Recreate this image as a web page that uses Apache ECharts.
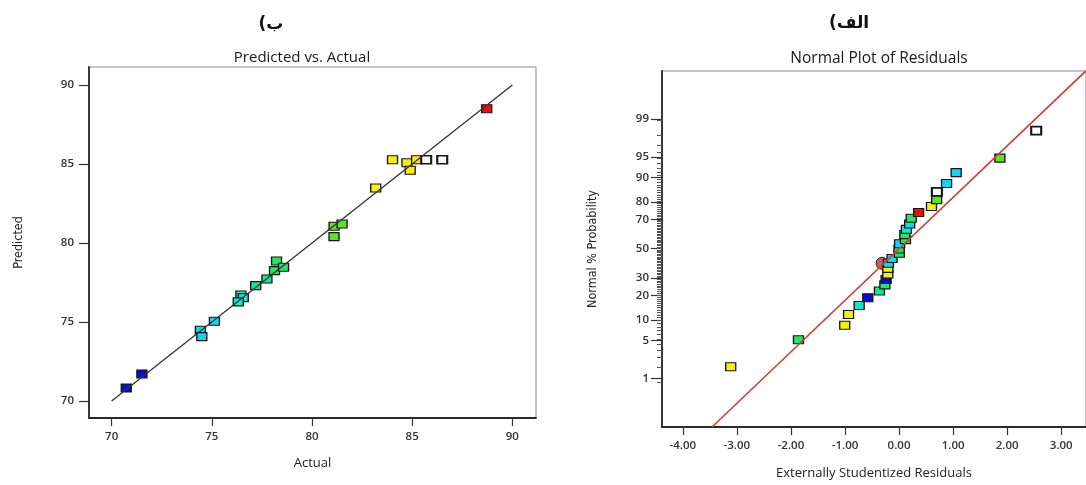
<!DOCTYPE html>
<html><head><meta charset="utf-8">
<script src="https://cdn.jsdelivr.net/npm/echarts@6/dist/echarts.min.js"></script>
<style>html,body{margin:0;padding:0;background:#fff}#c{width:1086px;height:485px}</style>
</head><body><div id="c"></div>
<script>
// ---- Left chart: Predicted vs. Actual ----
const actual    = [88.72, 84.02, 84.74, 85.22, 84.90, 85.70, 86.50, 83.18, 81.10, 81.50, 81.10, 78.23, 78.13, 78.58, 77.75, 77.19, 76.45, 76.57, 76.32, 75.13, 74.43, 74.50, 71.51, 70.73];
const predicted = [88.50, 85.27, 85.08, 85.27, 84.60, 85.27, 85.27, 83.48, 81.06, 81.20, 80.40, 78.86, 78.25, 78.46, 77.72, 77.30, 76.71, 76.54, 76.27, 75.04, 74.47, 74.07, 71.71, 70.82];
const leftColorKeys = ['red','yellow','yellow','yellow','yellow','white','white','yellow','lime','lime','lime','green','green','green','tealgreen','tealgreen','teal','teal','teal','cyan','cyan','cyan','blue','blue'];
const diagonalEnds = [70, 90];
const leftTicks = [70, 75, 80, 85, 90];

// ---- Right chart: Normal Plot of Residuals ----
const residuals     = [-3.114, -1.861, -1.005, -0.934, -0.738, -0.578, -0.364, -0.262, -0.239, -0.208, -0.208, -0.196, -0.130, 0.005, 0.000, 0.010, 0.118, 0.107, 0.136, 0.196, 0.225, 0.362, 0.600, 0.695, 0.700, 0.879, 1.057, 1.865, 2.537];
const probabilities = [1.7, 5.1, 8.5, 11.9, 15.4, 18.9, 22.4, 25.8, 29.0, 32.5, 36.2, 39.7, 43.0, 46.7, 49.8, 53.5, 56.5, 60.0, 63.6, 67.1, 70.8, 74.2, 77.6, 81.1, 84.6, 87.9, 91.4, 94.8, 98.3];
const rightColorKeys = ['yellow','green','yellow','yellow','teal','blue','tealgreen','green','blue','yellow','yellow','cyan','cyan','green','green','cyan','green','green','teal','cyan','green','red','yellow','lime','white','cyan','cyan','lime','white'];
const highlightResidual = [-0.315];
const highlightProbability = [39.7];
const normalLineResidual = [-3.46, 3.45];
const normalLineProbability = [0.0687, 99.928];
const probTicks = [1, 5, 10, 20, 30, 50, 70, 80, 90, 95, 99];
const residualTicks = [-4, -3, -2, -1, 0, 1, 2, 3];

const palette = {
  blue:'#0c0cd0', cyan:'#14d6f4', teal:'#14e8cc', tealgreen:'#14e496', green:'#28e464',
  lime:'#5ae622', yellow:'#f6f00c', red:'#f00c0c', white:'#ffffff'
};

// inverse normal CDF (Acklam) – probability scale of the normal plot
function probit(p) {
  const a=[-3.969683028665376e+01,2.209460984245205e+02,-2.759285104469687e+02,1.383577518672690e+02,-3.066479806614716e+01,2.506628277459239e+00];
  const b=[-5.447609879822406e+01,1.615858368580409e+02,-1.556989798598866e+02,6.680131188771972e+01,-1.328068155288572e+01];
  const c=[-7.784894002430293e-03,-3.223964580411365e-01,-2.400758277161838e+00,-2.549732539343734e+00,4.374664141464968e+00,2.938163982698783e+00];
  const d=[7.784695709041462e-03,3.224671290700398e-01,2.445134137142996e+00,3.754408661907416e+00];
  const pl=0.02425, ph=1-pl; let q,r;
  if (p<pl){q=Math.sqrt(-2*Math.log(p));return (((((c[0]*q+c[1])*q+c[2])*q+c[3])*q+c[4])*q+c[5])/((((d[0]*q+d[1])*q+d[2])*q+d[3])*q+1);}
  if (p<=ph){q=p-0.5;r=q*q;return (((((a[0]*r+a[1])*r+a[2])*r+a[3])*r+a[4])*r+a[5])*q/(((((b[0]*r+b[1])*r+b[2])*r+b[3])*r+b[4])*r+1);}
  q=Math.sqrt(-2*Math.log(1-p));return -(((((c[0]*q+c[1])*q+c[2])*q+c[3])*q+c[4])*q+c[5])/((((d[0]*q+d[1])*q+d[2])*q+d[3])*q+1);
}
const z = pct => probit(pct/100);
const probMinor = []; for (let i = 1; i <= 99; i++) probMinor.push(z(i));
const probMajorZ = probTicks.map(z);

const tickFont = {fontFamily:'Open Sans', fontSize:11.5, fontWeight:600, color:'#333'};
const axisLineStyle = {color:'#2a2a2a', width:1.8};
const narrowFont = '"DejaVu Sans Condensed", "Liberation Sans", sans-serif';
const sq = {symbol:'rect', symbolSize:[10,8]};
const Z_MIN = -3.2, Z_MAX = 3.19;
const markStyle = key => ({color:palette[key], opacity:1, borderColor:'#151515', borderWidth: key === 'white' ? 1.9 : 1.2});

const chart = echarts.init(document.getElementById('c'), null, {renderer:'canvas'});
chart.setOption({
  animation:false,
  backgroundColor:'#fff',
  grid:[
    {left:89, top:67, width:447, height:351, show:true, borderColor:'#8a8a8a', borderWidth:1},
    {left:662, top:71, width:440, height:361, show:true, borderColor:'#8a8a8a', borderWidth:1},
    {left:662, top:71, width:440, height:361, show:false}
  ],
  xAxis:[
    {gridIndex:0, type:'value', position:'bottom', min:68.87, max:91.18, splitLine:{show:false},
     axisLine:{onZero:false, lineStyle:axisLineStyle},
     axisTick:{customValues:leftTicks, length:8, lineStyle:{color:'#333', width:1.2}},
     axisLabel:Object.assign({customValues:leftTicks, margin:13}, tickFont),
     name:'Actual', nameLocation:'middle', nameGap:39,
     nameTextStyle:{fontFamily:'Open Sans', fontSize:13, color:'#222'}},
    {gridIndex:1, type:'value', position:'bottom', min:-4.385, max:3.458, splitLine:{show:false},
     axisLine:{onZero:false, lineStyle:axisLineStyle},
     axisTick:{customValues:residualTicks, length:8, lineStyle:{color:'#333', width:1.2}},
     axisLabel:Object.assign({customValues:residualTicks, margin:13, formatter:v=>v.toFixed(2)}, tickFont),
     name:'Externally Studentized Residuals', nameLocation:'middle', nameGap:40,
     nameTextStyle:{fontFamily:'Open Sans', fontSize:13, color:'#222'}},
    {gridIndex:2, type:'value', show:false, min:0, max:1}
  ],
  yAxis:[
    {gridIndex:0, type:'value', position:'left', min:68.92, max:91.14, splitLine:{show:false},
     axisLine:{onZero:false, lineStyle:axisLineStyle},
     axisTick:{customValues:leftTicks, length:10, lineStyle:{color:'#333', width:1.2}},
     axisLabel:Object.assign({customValues:leftTicks, margin:15}, tickFont),
     name:'Predicted', nameLocation:'middle', nameGap:64, nameRotate:90,
     nameTextStyle:{fontFamily:narrowFont, fontSize:12.5, color:'#222'}},
    {gridIndex:1, type:'value', position:'left', min:Z_MIN, max:Z_MAX, splitLine:{show:false},
     axisLine:{onZero:false, lineStyle:axisLineStyle},
     axisTick:{customValues:probMajorZ, length:11, lineStyle:{color:'#333', width:1.2}},
     axisLabel:Object.assign({customValues:probMajorZ, margin:13,
       formatter:v=>{let best=probTicks[0],bd=1e9;probTicks.forEach(t=>{const dd=Math.abs(z(t)-v);if(dd<bd){bd=dd;best=t;}});return String(best);}}, tickFont),
     name:'Normal % Probability', nameLocation:'middle', nameGap:63, nameRotate:90,
     nameTextStyle:{fontFamily:narrowFont, fontSize:12.5, color:'#222'}},
    {gridIndex:2, type:'value', position:'left', min:Z_MIN, max:Z_MAX, splitLine:{show:false},
     axisLine:{show:false, onZero:false},
     axisTick:{show:true, customValues:probMinor, length:5, lineStyle:{color:'#555', width:1}},
     axisLabel:{show:false}}
  ],
  graphic:[
    {type:'text', x:271, y:25, style:{text:'ب)\u200F', align:'center', verticalAlign:'middle', font:'bold 17px "DejaVu Sans"', fill:'#111'}},
    {type:'text', x:849, y:24, style:{text:'الف)\u200F', align:'center', verticalAlign:'middle', font:'bold 17px "DejaVu Sans"', fill:'#111'}},
    {type:'text', x:302, y:58, style:{text:'Predicted vs. Actual', align:'center', verticalAlign:'middle', font:'15px "Open Sans"', fill:'#1a1a1a'}},
    {type:'text', x:879, y:59, style:{text:'Normal Plot of Residuals', align:'center', verticalAlign:'middle', font:'15.5px "Open Sans"', fill:'#1a1a1a'}}
  ],
  series:[
    {type:'line', xAxisIndex:0, yAxisIndex:0, silent:true, symbol:'none',
     data:[[diagonalEnds[0],diagonalEnds[0]],[diagonalEnds[1],diagonalEnds[1]]],
     lineStyle:{color:'#333', width:1.3}},
    {type:'scatter', xAxisIndex:0, yAxisIndex:0, ...sq,
     data:actual.map((a,i)=>({value:[a,predicted[i]], itemStyle:markStyle(leftColorKeys[i])}))},
    {type:'line', xAxisIndex:1, yAxisIndex:1, silent:true, symbol:'none',
     data:normalLineResidual.map((r,i)=>[r, z(normalLineProbability[i])]),
     lineStyle:{color:'#d2403c', width:1.6}},
    {type:'scatter', xAxisIndex:1, yAxisIndex:1, symbol:'circle', symbolSize:12,
     data:highlightResidual.map((r,i)=>[r, z(highlightProbability[i])]),
     itemStyle:{color:'#c0625c', opacity:1, borderColor:'#3a2020', borderWidth:1}},
    {type:'scatter', xAxisIndex:1, yAxisIndex:1, ...sq,
     data:residuals.map((r,i)=>({value:[r, z(probabilities[i])], itemStyle:markStyle(rightColorKeys[i])}))}
  ]
});
</script></body></html>
